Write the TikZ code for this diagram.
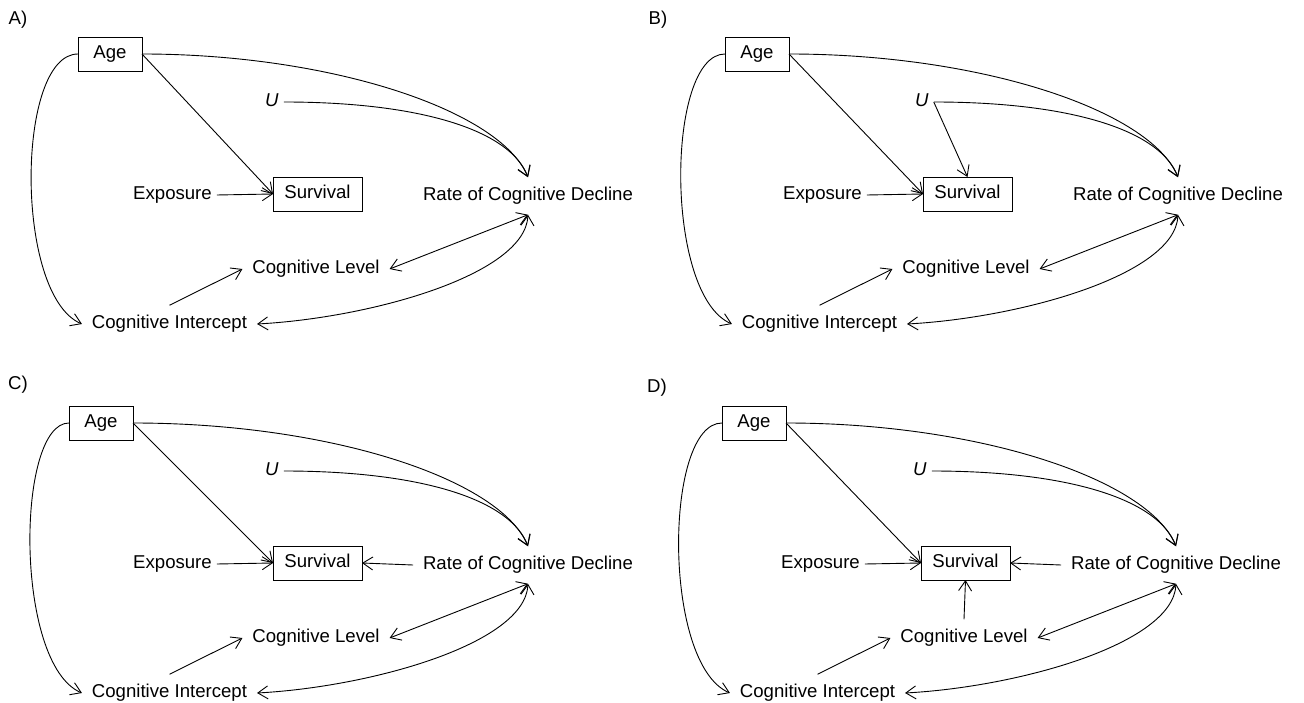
\documentclass[tikz,border=0pt]{standalone}
\usepackage{fontspec}
\setmainfont{Liberation Sans}
\usetikzlibrary{arrows.meta}

\tikzset{
  every node/.style={font=\fontsize{18.6}{22}\selectfont, inner sep=3pt,
    text height=13.5pt, text depth=4pt},
  txt/.style={outer sep=7pt},
  tight/.style={outer sep=2pt},
  boxvar/.style={draw, line width=0.9pt, outer sep=0pt, minimum height=34pt},
  arr/.style={line width=0.9pt, -{Straight Barb[length=10pt,width=13pt]}},
  biarr/.style={line width=0.9pt,
    {Straight Barb[length=10pt,width=13pt]}-{Straight Barb[length=10pt,width=13pt]}}
}

\begin{document}
\begin{tikzpicture}[x=1pt, y=-1pt]
  \useasboundingbox (0,0) rectangle (1304,703);
  % the four panels share one layout
  \foreach \p/\lab/\lx/\ly/\dx/\dy/\ax in
    {a/A/18/20/0/0/110, b/B/658/20/650/0/107, c/C/18/385/0/369/101, d/D/657/388/648/369/106} {
    \node (\p-lab) at (\lx,\ly) {\lab)};
    \begin{scope}[shift={(\dx,\dy)}]
      \node[boxvar, minimum width=64pt] (\p-age) at (\ax,54) {Age};
      \node[tight] (\p-u) at (272,102) {\textit{U}};
      \node[tight] (\p-exp) at (172.5,195) {Exposure};
      \node[boxvar, minimum width=89pt] (\p-surv) at (317.5,194) {Survival};
      \node[txt] (\p-rcd) at (528,196) {Rate of Cognitive Decline};
      \node[txt] (\p-cl) at (316,269) {Cognitive Level};
      \node[txt] (\p-ci) at (169.5,324) {Cognitive Intercept};

      \draw[arr] (\p-age.east) .. controls (330,54) and (500,110) .. (\p-rcd.north);
      \draw[arr] (\p-u.east) .. controls (420,102) and (510,130) .. (\p-rcd.north);
      \draw[arr] (\p-age.east) -- (\p-surv.west);
      \draw[arr] (\p-exp.east) -- (\p-surv.west);
      \draw[arr] (\p-age.west) .. controls (16,54) and (14,295) .. (\p-ci.west);
      \draw[arr] (\p-ci.north) -- (\p-cl.west);
      \draw[biarr] (\p-cl.east) -- (\p-rcd.south);
      \draw[biarr] (\p-ci.east) .. controls (370,318) and (525,275) .. (\p-rcd.south);
    \end{scope}
  }
  % panel specific arrows
  \draw[arr] (b-u.east) -- (b-surv.north);
  \draw[arr] (c-rcd.west) -- (c-surv.east);
  \draw[arr] (d-rcd.west) -- (d-surv.east);
  \draw[arr] (d-cl.north) -- (d-surv.south);
\end{tikzpicture}
\end{document}
